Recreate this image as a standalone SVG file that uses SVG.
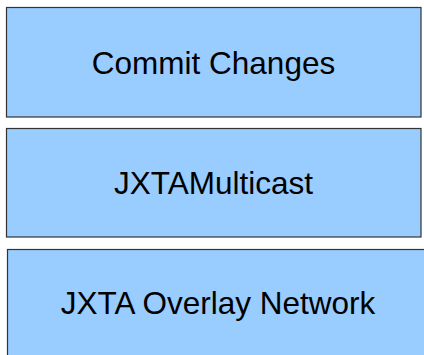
<svg xmlns="http://www.w3.org/2000/svg" width="424" height="355" viewBox="0 0 424 355">
<style>
.box{fill:#99ccff;stroke:#333333;stroke-width:1.2}
.lbl{font-family:"Liberation Sans",Arial,sans-serif;font-size:31.5px;fill:#000000;text-anchor:middle}
</style>
<rect width="424" height="355" fill="#ffffff"/>
<g id="commit-changes">
<rect class="box" x="6.5" y="7.5" width="414.5" height="109.5"/>
<text class="lbl" x="213.5" y="74.3">Commit Changes</text>
</g>
<g id="jxta-multicast">
<rect class="box" x="6.5" y="128.5" width="414.5" height="108.5"/>
<text class="lbl" x="213.5" y="194.3">JXTAMulticast</text>
</g>
<g id="jxta-overlay-network">
<rect class="box" x="7.5" y="249.5" width="430" height="120"/>
<text class="lbl" x="218" y="314">JXTA Overlay Network</text>
</g>
<g id="connectors"></g>
</svg>
